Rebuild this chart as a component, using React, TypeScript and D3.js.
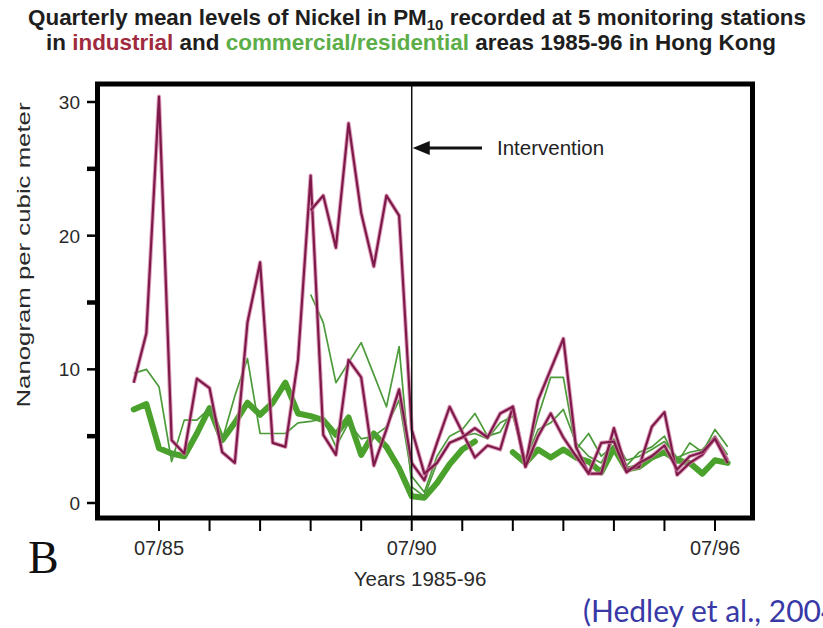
import React from "react";
import * as d3 from "d3";

// Quarter start dates, Q1 1985 .. Q4 1996 (decimal years)
const QUARTERS: number[] = d3.range(48).map((i) => 1985 + i * 0.25);

// Industrial stations (ng/m3)
const industrialA: (number | null)[] = [
  9.0, 12.7, 30.4, 4.7, 3.7, 9.3, 8.6, 3.8, 3.0, 13.5, 18.0, 4.5,
  4.2, 10.7, 24.5, 5.1, 3.6, 10.7, 9.4, 2.8, 5.5, 8.5, 3.0, 1.7,
  4.5, 7.2, 5.3, 3.4, 4.3, 4.0, 7.2, 2.8, 7.7, 10.0, 12.3, 4.2,
  2.2, 2.2, 5.6, 2.5, 2.7, 5.7, 6.8, 2.1, 3.0, 3.6, 4.9, 3.2,
];
const industrialB: (number | null)[] = [
  null, null, null, null, null, null, null, null, null, null, null, null,
  null, null, 21.9, 23.0, 19.1, 28.4, 21.7, 17.7, 23.0, 21.5, 5.5, 2.2,
  3.0, 4.5, 4.9, 5.6, 4.9, 6.7, 7.2, 2.7, 5.0, 6.7, 4.9, 3.5,
  2.2, 4.5, 4.6, 2.3, 3.0, 3.5, 4.3, 2.5, 3.5, 3.8, 4.8, 3.0,
];

// Commercial / residential stations (ng/m3)
const commercialMain: (number | null)[] = [
  7.0, 7.4, 4.1, 3.7, 3.5, 5.2, 7.1, 4.7, 6.0, 7.5, 6.6, 7.5,
  9.0, 6.7, 6.5, 6.2, 5.1, 6.4, 3.6, 5.2, 4.2, 2.6, 0.5, 0.4,
  1.5, 2.9, 4.0, 4.6, null, null, 3.8, 3.0, 4.0, 3.4, 4.0, 3.4,
  3.1, 2.3, 4.1, 2.5, 2.7, 3.4, 3.8, 3.2, 3.0, 2.2, 3.2, 3.0,
];
const commercialB: (number | null)[] = [
  9.7, 10.0, 8.7, 3.1, 6.2, 6.2, 7.1, 4.7, 8.0, 10.8, 5.2, 5.2,
  5.2, 6.0, 6.1, 6.3, 4.2, 6.0, 4.8, 5.0, 5.7, 7.7, 2.0, 0.8,
  3.5, 5.0, 5.5, 6.7, 5.0, 5.3, 7.0, 3.0, 6.5, 9.4, 9.4, 4.0,
  5.2, 3.5, 4.3, 2.8, 3.8, 4.2, 5.0, 3.0, 4.5, 3.8, 5.5, 4.2,
];
const commercialC: (number | null)[] = [
  null, null, null, null, null, null, null, null, null, null, null, null,
  null, null, 15.6, 13.5, 9.0, 10.5, 12.0, 9.6, 7.2, 11.7, 1.2, 0.5,
  3.0, 4.5, 5.0, 5.2, 4.8, 6.0, 6.5, 3.2, 5.5, 6.0, 7.0, 4.5,
  3.5, 3.0, 4.8, 3.2, 3.5, 4.0, 4.6, 3.4, 3.8, 4.0, 5.0, 3.6,
];

const yMajorTicks = [0, 10, 20, 30];
const yMinorTicks = [5, 15, 25];
const xTickYears = d3.range(1985.5, 1997, 1);
const xTickLabels = [
  { t: 1985.5, label: "07/85" },
  { t: 1990.5, label: "07/90" },
  { t: 1996.5, label: "07/96" },
];
const INTERVENTION = 1990.5;

const FONT = "'Liberation Sans', Arial, Helvetica, sans-serif";
const PURPLE = "#7e1a4a";
const PURPLE_HALO = "#d27aa4";
const GREEN_THIN = "#4c9a3a";
const GREEN_THICK = "#4aa22c";

export default function App() {
  const x = d3.scaleLinear().domain([1985.5, 1996.5]).range([159, 715]);
  const y = d3.scaleLinear().domain([0, 30]).range([503, 102]);

  const frame = { left: 97.5, top: 84, right: 752.5, bottom: 518 };

  const line = d3
    .line<number | null>()
    .defined((d) => d != null)
    .x((_, i) => x(QUARTERS[i]))
    .y((d) => y(d as number));

  const xi = x(INTERVENTION);

  return (
    <svg
      width={823}
      height={628}
      style={{ position: "absolute", left: 0, top: 0, background: "#fff" }}
      fontFamily={FONT}
    >
      <rect x={0} y={0} width={823} height={628} fill="#fff" />

      {/* title */}
      <g transform="translate(417,25) scale(1,1.2)">
        <text textAnchor="middle" fontSize={18} fontWeight="bold" fill="#1e1e1e" textLength={778} lengthAdjust="spacingAndGlyphs">
          Quarterly mean levels of Nickel in PM
          <tspan fontSize={12} dy={4}>10</tspan>
          <tspan dy={-4}> recorded at 5 monitoring stations</tspan>
        </text>
      </g>
      <g transform="translate(411,50) scale(1,1.2)">
        <text textAnchor="middle" fontSize={18} fontWeight="bold" fill="#1e1e1e" textLength={730} lengthAdjust="spacingAndGlyphs">
          in <tspan fill="#a02a3e">industrial</tspan> and{" "}
          <tspan fill="#5cae48">commercial/residential</tspan> areas 1985-96 in Hong Kong
        </text>
      </g>

      {/* series */}
      <path d={line(commercialMain) || ""} fill="none" stroke={GREEN_THICK} strokeWidth={6} strokeLinejoin="round" strokeLinecap="round" />
      {[commercialB, commercialC].map((s, k) => (
        <path key={"g" + k} d={line(s) || ""} fill="none" stroke={GREEN_THIN} strokeWidth={1.7} strokeLinejoin="round" />
      ))}
      {[industrialA, industrialB].map((s, k) => (
        <g key={"p" + k}>
          <path d={line(s) || ""} fill="none" stroke={PURPLE_HALO} strokeWidth={4.2} strokeLinejoin="round" opacity={0.7} />
          <path d={line(s) || ""} fill="none" stroke={PURPLE} strokeWidth={2.2} strokeLinejoin="round" />
        </g>
      ))}

      {/* intervention marker */}
      <line x1={xi} x2={xi} y1={frame.top} y2={frame.bottom} stroke="#111" strokeWidth={1.5} />
      <line x1={xi + 14} x2={482} y1={148} y2={148} stroke="#111" strokeWidth={3} />
      <polygon points={`${xi + 1},148 ${xi + 18},141 ${xi + 18},155`} fill="#111" />
      <text x={497} y={155} fontSize={20.5} fill="#222">Intervention</text>

      {/* frame */}
      <rect
        x={frame.left}
        y={frame.top}
        width={frame.right - frame.left}
        height={frame.bottom - frame.top}
        fill="none"
        stroke="#000"
        strokeWidth={5}
      />

      {/* y axis */}
      {yMajorTicks.map((t) => (
        <g key={"ym" + t}>
          <line x1={87} x2={frame.left} y1={y(t)} y2={y(t)} stroke="#000" strokeWidth={2.5} />
          <text x={80} y={y(t)} dy="0.36em" textAnchor="end" fontSize={19} fill="#2a2a2a">{t}</text>
        </g>
      ))}
      {yMinorTicks.map((t) => (
        <line key={"yn" + t} x1={87} x2={frame.left} y1={y(t)} y2={y(t)} stroke="#000" strokeWidth={4.5} />
      ))}
      <text
        transform={`translate(30,${(100 + 410) / 2}) rotate(-90)`}
        textAnchor="middle"
        fontSize={18}
        fill="#2a2a2a"
        textLength={305}
        lengthAdjust="spacingAndGlyphs"
      >
        Nanogram per cubic meter
      </text>

      {/* x axis */}
      {xTickYears.map((t) => (
        <line key={"xt" + t} x1={x(t)} x2={x(t)} y1={frame.bottom} y2={531} stroke="#000" strokeWidth={2} />
      ))}
      {xTickLabels.map((d) => (
        <text key={d.label} x={x(d.t)} y={555} textAnchor="middle" fontSize={20} fill="#2a2a2a">{d.label}</text>
      ))}
      <text x={420} y={586} textAnchor="middle" fontSize={20.5} fill="#2a2a2a">Years 1985-96</text>

      <text x={28} y={573} fontSize={46} fontFamily="'Liberation Serif', 'Times New Roman', serif" fill="#111">B</text>

      <text x={583} y={622} fontSize={30} fontFamily="Lato, 'Open Sans', sans-serif" fill="#3838a6">(Hedley et al., 2004)</text>
    </svg>
  );
}
